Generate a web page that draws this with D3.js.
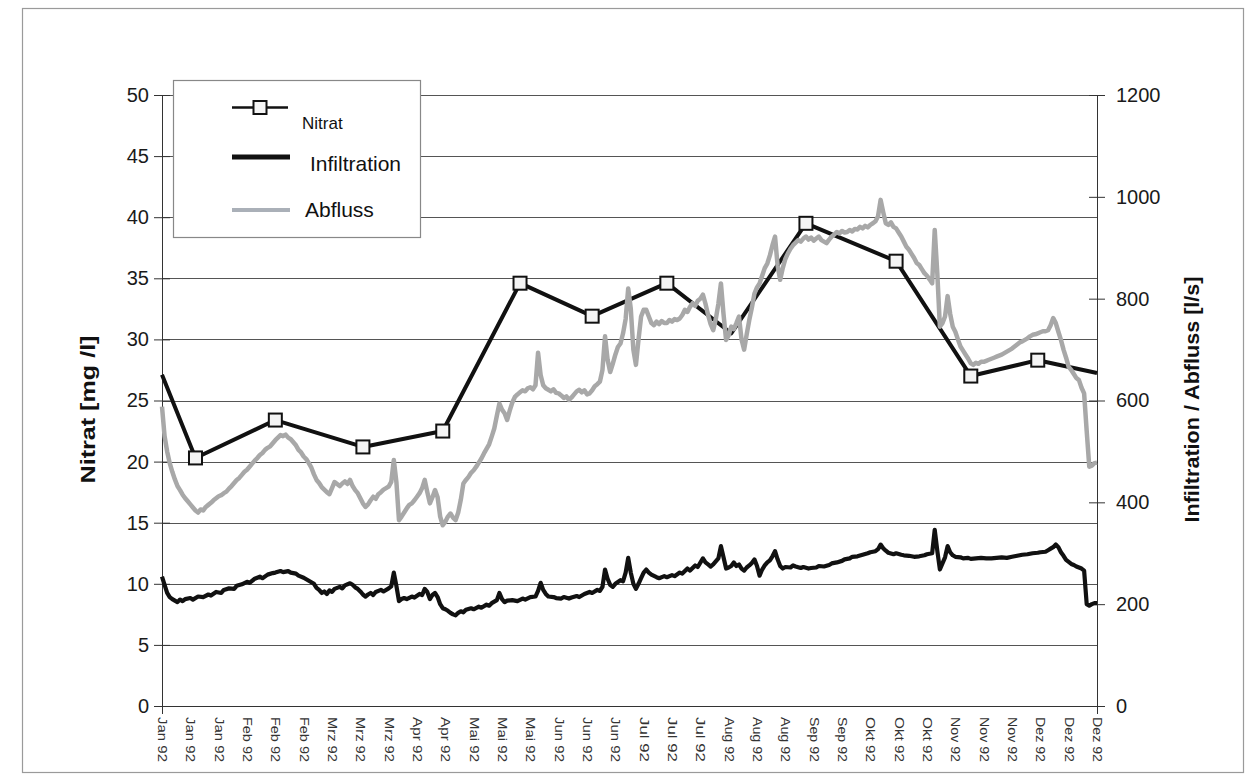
<!DOCTYPE html>
<html>
<head>
<meta charset="utf-8">
<script src="https://cdn.jsdelivr.net/npm/d3@7"></script>
<style>
  html, body { margin: 0; padding: 0; background: #fff; }
  svg { display: block; font-family: "Liberation Sans", Arial, Helvetica, sans-serif; }
</style>
</head>
<body>
<svg id="chart" width="1249" height="781"></svg>
<script>
// Nitrate samples (mg/l) at day-of-year offsets from 1 Jan 1992; flag = sample marker drawn
const nitratDays   = [0, 13, 44, 78, 109, 139, 167, 196, 221, 250, 285, 314, 340, 363];
const nitratValues = [27.1, 20.3, 23.4, 21.2, 22.5, 34.6, 31.9, 34.6, 30.5, 39.5, 36.4, 27.0, 28.3, 27.25];
const nitratMarker = [0, 1, 1, 1, 1, 1, 1, 1, 0, 1, 1, 1, 1, 0];

// Daily infiltration (l/s): [day, value]
const infiltration = [[0,254],[1,238],[2,222],[3,214],[4,210],[5,207],[6,204],[7,209],[8,206],[9,210],[11,212],[12,209],[14,215],[16,214],[18,219],[19,217],[21,224],[23,222],[24,228],[26,231],[28,230],[29,236],[31,239],[33,244],[34,242],[36,250],[38,254],[39,251],[41,258],[43,261],[44,262],[46,265],[47,263],[49,265],[50,262],[52,260],[53,256],[55,252],[56,249],[58,243],[59,240],[60,232],[61,228],[62,222],[63,225],[64,220],[65,227],[66,224],[67,230],[69,234],[70,231],[71,237],[73,241],[74,238],[75,233],[76,230],[77,225],[78,219],[79,215],[80,219],[81,222],[82,218],[83,224],[85,228],[86,225],[88,231],[89,235],[90,262],[91,236],[92,206],[93,210],[94,212],[95,210],[97,215],[98,213],[100,220],[101,218],[102,230],[103,224],[104,210],[105,218],[106,222],[107,214],[108,200],[109,192],[110,190],[111,187],[112,183],[113,180],[114,178],[115,183],[116,186],[117,184],[118,189],[120,192],[121,190],[123,195],[124,193],[126,199],[127,197],[128,202],[130,208],[131,222],[132,210],[133,204],[134,207],[136,208],[138,206],[140,211],[141,209],[143,214],[145,215],[146,226],[147,242],[148,228],[149,220],[150,215],[152,214],[153,212],[155,211],[156,214],[158,211],[159,213],[161,216],[162,214],[164,220],[166,224],[167,222],[169,228],[170,226],[171,234],[172,268],[173,250],[174,238],[175,234],[176,240],[178,247],[179,245],[180,262],[181,291],[182,262],[183,240],[184,230],[185,240],[186,251],[187,262],[188,268],[189,262],[190,258],[192,253],[193,251],[195,255],[196,253],[198,257],[199,255],[201,262],[202,260],[204,270],[205,266],[207,276],[208,273],[210,290],[211,282],[212,278],[213,274],[214,278],[215,284],[216,290],[217,314],[218,292],[219,270],[220,272],[221,275],[222,282],[223,275],[224,278],[225,270],[226,266],[227,272],[228,276],[229,281],[230,288],[231,275],[232,256],[233,268],[234,276],[235,282],[236,286],[237,294],[238,304],[239,288],[240,275],[241,270],[242,273],[244,272],[245,276],[246,274],[248,271],[249,273],[251,270],[252,271],[254,272],[255,275],[257,274],[259,277],[260,280],[262,282],[264,285],[265,288],[267,290],[268,293],[270,294],[272,297],[274,300],[275,302],[277,304],[278,308],[279,317],[280,310],[281,305],[282,301],[284,298],[285,300],[287,297],[288,296],[290,295],[292,293],[294,294],[296,296],[297,298],[299,300],[300,346],[301,305],[302,268],[303,280],[304,292],[305,314],[306,302],[307,296],[308,293],[310,292],[311,290],[313,291],[314,289],[316,290],[318,291],[320,290],[322,290],[324,291],[326,292],[328,291],[330,293],[332,295],[334,297],[336,298],[338,300],[340,301],[341,302],[343,303],[344,306],[345,309],[346,312],[347,317],[348,312],[349,302],[350,295],[351,287],[352,283],[353,279],[354,277],[355,274],[356,272],[357,270],[358,266],[359,200],[360,197],[361,200],[362,202],[363,202]];

// Daily discharge (l/s): [day, value]
const abfluss = [[0,588],[1,530],[2,500],[3,477],[4,460],[5,445],[6,432],[7,424],[8,415],[9,408],[10,402],[11,396],[12,390],[13,384],[14,380],[15,386],[16,384],[17,391],[18,395],[19,399],[20,404],[21,408],[22,412],[23,414],[24,418],[25,421],[26,427],[27,432],[28,438],[29,444],[30,448],[31,454],[32,460],[33,464],[34,470],[35,476],[36,482],[37,487],[38,493],[39,497],[40,503],[41,507],[42,510],[43,516],[44,522],[45,527],[46,532],[47,530],[48,533],[49,527],[50,524],[51,518],[52,512],[53,503],[54,498],[55,490],[56,485],[57,477],[58,468],[59,455],[60,444],[61,438],[62,430],[63,425],[64,420],[65,416],[66,428],[67,440],[68,436],[69,432],[70,437],[71,441],[72,436],[73,444],[74,432],[75,424],[76,418],[77,408],[78,398],[79,391],[80,396],[81,404],[82,411],[83,407],[84,416],[85,420],[86,425],[87,428],[88,431],[89,440],[90,483],[91,440],[92,365],[93,372],[94,380],[95,388],[96,395],[97,398],[98,404],[99,411],[100,418],[101,428],[102,444],[103,420],[104,398],[105,410],[106,424],[107,410],[108,372],[109,355],[110,362],[111,372],[112,378],[113,370],[114,365],[115,380],[116,405],[117,437],[118,444],[119,450],[120,458],[121,463],[122,470],[123,478],[124,486],[125,496],[126,505],[127,514],[128,529],[129,545],[130,570],[131,594],[132,582],[133,575],[134,562],[135,580],[136,596],[137,607],[138,612],[139,616],[140,620],[141,618],[142,624],[143,626],[144,622],[145,630],[146,694],[147,650],[148,630],[149,624],[150,621],[151,618],[152,622],[153,615],[154,614],[155,610],[156,605],[157,608],[158,601],[159,606],[160,612],[161,618],[162,621],[163,616],[164,620],[165,612],[166,614],[167,620],[168,628],[169,632],[170,637],[171,660],[172,726],[173,680],[174,656],[175,672],[176,690],[177,705],[178,712],[179,732],[180,760],[181,820],[182,780],[183,700],[184,670],[185,720],[186,765],[187,778],[188,778],[189,765],[190,752],[191,748],[192,755],[193,750],[194,756],[195,752],[196,752],[197,758],[198,755],[199,760],[200,758],[201,761],[202,768],[203,778],[204,774],[205,784],[206,791],[207,786],[208,796],[209,800],[210,808],[211,790],[212,768],[213,750],[214,738],[215,760],[216,790],[217,830],[218,770],[219,719],[220,728],[221,745],[222,740],[223,752],[224,765],[225,720],[226,700],[227,730],[228,758],[229,782],[230,810],[231,822],[232,830],[233,845],[234,860],[235,869],[236,885],[237,905],[238,922],[239,865],[240,837],[241,860],[242,878],[243,889],[244,898],[245,905],[246,910],[247,915],[248,912],[249,918],[250,922],[251,916],[252,920],[253,914],[254,918],[255,922],[256,915],[257,912],[258,909],[259,916],[260,922],[261,926],[262,931],[263,928],[264,933],[265,930],[266,931],[267,935],[268,932],[269,937],[270,936],[271,941],[272,938],[273,943],[274,940],[275,945],[276,948],[277,952],[278,962],[279,994],[280,970],[281,948],[282,945],[283,950],[284,941],[285,938],[286,930],[287,922],[288,912],[289,902],[290,896],[291,888],[292,880],[293,870],[294,866],[295,858],[296,850],[297,845],[298,838],[299,830],[300,935],[301,850],[302,745],[303,752],[304,765],[305,805],[306,770],[307,745],[308,735],[309,720],[310,706],[311,698],[312,690],[313,682],[314,673],[315,670],[316,674],[317,672],[318,676],[319,676],[320,678],[321,680],[322,682],[323,684],[324,686],[325,688],[326,690],[327,693],[328,696],[329,699],[330,702],[331,706],[332,710],[333,714],[334,716],[335,719],[336,722],[337,726],[338,729],[339,730],[340,732],[341,734],[342,736],[343,736],[344,738],[345,748],[346,762],[347,752],[348,735],[349,719],[350,700],[351,684],[352,666],[353,660],[354,652],[355,644],[356,640],[357,625],[358,614],[359,540],[360,470],[361,472],[362,477],[363,478]];

// Axis ticks and labels
const leftTicks  = [0, 5, 10, 15, 20, 25, 30, 35, 40, 45, 50];
const rightTicks = [0, 200, 400, 600, 800, 1000, 1200];
const labelEveryDays = 11;
const monthNames = ["Jan", "Feb", "Mrz", "Apr", "Mai", "Jun", "Jul", "Aug", "Sep", "Okt", "Nov", "Dez"];
const yearSuffix = "92";
const startDate = new Date(1992, 0, 1);
const lastDay = 363;

const svg = d3.select("#chart");
const plot = { left: 162, right: 1097, top: 95, bottom: 706 };

const x = d3.scaleLinear().domain([0, lastDay]).range([plot.left, plot.right]);
const yL = d3.scaleLinear().domain([0, 50]).range([plot.bottom, plot.top]);
const yR = d3.scaleLinear().domain([0, 1200]).range([plot.bottom, plot.top]);

// outer frame
svg.append("rect").attr("x", 22.5).attr("y", 8.5).attr("width", 1221).attr("height", 764)
  .attr("fill", "#fff").attr("stroke", "#9a9a9a").attr("stroke-width", 1.2);

// horizontal gridlines
svg.append("g").selectAll("line").data(leftTicks.filter(d => d > 0)).join("line")
  .attr("x1", plot.left).attr("x2", plot.right)
  .attr("y1", d => Math.round(yL(d)) + 0.5).attr("y2", d => Math.round(yL(d)) + 0.5)
  .attr("stroke", "#555").attr("stroke-width", 1.2);

// left axis
const gL = svg.append("g").attr("transform", `translate(${plot.left},0)`)
  .call(d3.axisLeft(yL).tickValues(leftTicks).tickSize(8).tickPadding(5).tickFormat(d3.format("d")));
gL.selectAll(".tick line").attr("x2", 8).attr("x1", -8).attr("stroke", "#333");
gL.select(".domain").attr("stroke", "#333").attr("d", `M0.5,${plot.top}V${plot.bottom}`);
gL.selectAll("text").attr("font-size", 20).attr("fill", "#1a1a1a").attr("font-family", "Liberation Sans, Arial, sans-serif");

// right axis
const gR = svg.append("g").attr("transform", `translate(${plot.right},0)`)
  .call(d3.axisRight(yR).tickValues(rightTicks).tickSize(8).tickPadding(11).tickFormat(d3.format("d")));
gR.selectAll(".tick line").attr("x1", -8).attr("x2", 8).attr("stroke", "#333");
gR.select(".domain").attr("stroke", "#333").attr("d", `M0.5,${plot.top}V${plot.bottom}`);
gR.selectAll("text").attr("font-size", 20).attr("fill", "#1a1a1a").attr("font-family", "Liberation Sans, Arial, sans-serif");

// bottom axis with date labels every 11 days
const labelDays = d3.range(0, lastDay + 1, labelEveryDays);
const dayToLabel = d => {
  const dt = d3.timeDay.offset(startDate, d);
  return `${monthNames[dt.getMonth()]} ${yearSuffix}`;
};
const gB = svg.append("g").attr("transform", `translate(0,${plot.bottom})`)
  .call(d3.axisBottom(x).tickValues(labelDays).tickSize(0).tickFormat(dayToLabel));
gB.select(".domain").attr("stroke", "#333").attr("d", `M${plot.left},0.5H${plot.right}`);
gB.selectAll("text")
  .attr("font-size", 13).attr("fill", "#333")
  .attr("text-anchor", "start").attr("dominant-baseline", "central")
  .attr("textLength", 45).attr("lengthAdjust", "spacingAndGlyphs")
  .attr("transform", "rotate(90)").attr("x", 11).attr("y", 0).attr("dy", null);
// end ticks of the category axis
svg.append("g").selectAll("line").data([0, lastDay]).join("line")
  .attr("x1", d => x(d) + 0.5).attr("x2", d => x(d) + 0.5)
  .attr("y1", plot.bottom).attr("y2", plot.bottom + 8).attr("stroke", "#333");

// axis titles
svg.append("text").attr("transform", `translate(95,${(plot.top + plot.bottom) / 2 + 9}) rotate(-90)`)
  .attr("text-anchor", "middle").attr("font-weight", "bold").attr("font-size", 20)
  .attr("textLength", 148).attr("lengthAdjust", "spacingAndGlyphs")
  .attr("fill", "#111").text("Nitrat [mg /l]");
svg.append("text").attr("transform", `translate(1199,${(plot.top + plot.bottom) / 2 - 1}) rotate(-90)`)
  .attr("text-anchor", "middle").attr("font-weight", "bold").attr("font-size", 21)
  .attr("textLength", 246).attr("lengthAdjust", "spacingAndGlyphs")
  .attr("fill", "#111").text("Infiltration / Abfluss [l/s]");

// series
const nitratData = nitratDays.map((d, i) => ({ day: d, v: nitratValues[i], m: nitratMarker[i] }));
const lineN = d3.line().x(d => x(d.day)).y(d => yL(d.v));
const lineR = d3.line().x(d => x(d[0])).y(d => yR(d[1]));

svg.append("path").datum(nitratData).attr("d", lineN)
  .attr("fill", "none").attr("stroke", "#111").attr("stroke-width", 4).attr("stroke-linejoin", "round");

svg.append("path").datum(abfluss).attr("d", lineR)
  .attr("fill", "none").attr("stroke", "#a8a8a8").attr("stroke-width", 4.5).attr("stroke-linejoin", "round");

svg.append("path").datum(infiltration).attr("d", lineR)
  .attr("fill", "none").attr("stroke", "#111").attr("stroke-width", 4.2).attr("stroke-linejoin", "round");

svg.append("g").selectAll("rect").data(nitratData.filter(d => d.m)).join("rect")
  .attr("x", d => x(d.day) - 6.5).attr("y", d => yL(d.v) - 6.5)
  .attr("width", 13).attr("height", 13)
  .attr("fill", "#f4f4f4").attr("stroke", "#111").attr("stroke-width", 2);

// legend
const lg = svg.append("g");
lg.append("rect").attr("x", 173.5).attr("y", 80.5).attr("width", 247).attr("height", 157)
  .attr("fill", "#fff").attr("stroke", "#888").attr("stroke-width", 1.2);
lg.append("line").attr("x1", 232).attr("x2", 288).attr("y1", 107.5).attr("y2", 107.5)
  .attr("stroke", "#111").attr("stroke-width", 2.5);
lg.append("rect").attr("x", 253.5).attr("y", 101).attr("width", 13).attr("height", 13)
  .attr("fill", "#f4f4f4").attr("stroke", "#111").attr("stroke-width", 2);
lg.append("text").attr("x", 302).attr("y", 129).attr("font-size", 17).attr("fill", "#111").text("Nitrat");
lg.append("line").attr("x1", 232).attr("x2", 290).attr("y1", 157).attr("y2", 157)
  .attr("stroke", "#111").attr("stroke-width", 5);
lg.append("text").attr("x", 310).attr("y", 171).attr("font-size", 21).attr("fill", "#111").text("Infiltration");
lg.append("line").attr("x1", 232).attr("x2", 290).attr("y1", 210).attr("y2", 210)
  .attr("stroke", "#aab0b8").attr("stroke-width", 4);
lg.append("text").attr("x", 305).attr("y", 217).attr("font-size", 21).attr("fill", "#111").text("Abfluss");
</script>
</body>
</html>
